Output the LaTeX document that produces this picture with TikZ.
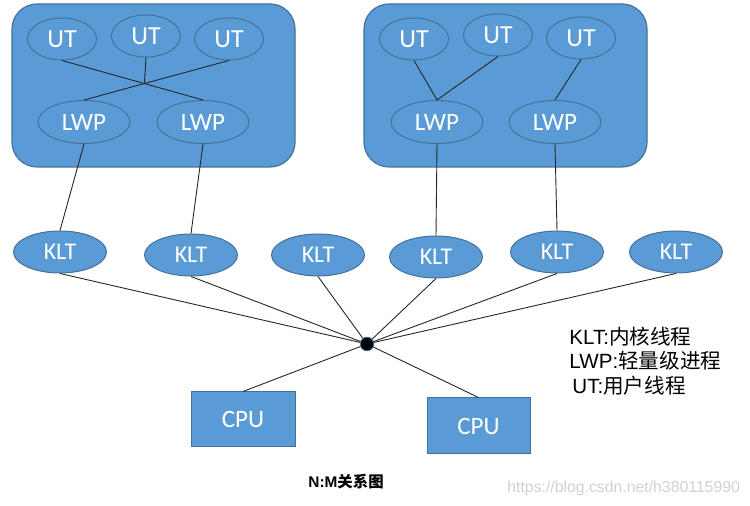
\documentclass[tikz,border=0pt]{standalone}
\usepackage{fontspec}
\usetikzlibrary{shapes.geometric}
\setmainfont{Liberation Sans}
\newfontfamily\cjk{Noto Sans CJK SC}
\newfontfamily\shapefont{Carlito}
\definecolor{officeblue}{HTML}{5B9BD5}
\definecolor{edgeblue}{HTML}{41719C}
\tikzset{
  procbox/.style={draw=edgeblue, fill=officeblue, rounded corners=12.5pt, line width=0.6pt},
  thread/.style={ellipse, draw=edgeblue, fill=officeblue, text=white, inner sep=0pt, line width=0.5pt},
  ut/.style={thread, minimum width=34.5pt, minimum height=21pt, font=\shapefont\fontsize{13}{15}\selectfont},
  lwp/.style={thread, minimum width=46pt, minimum height=21.5pt, font=\shapefont\fontsize{12.5}{15}\selectfont},
  klt/.style={thread, minimum width=46.5pt, minimum height=21pt, font=\shapefont\fontsize{12}{14}\selectfont},
  cpu/.style={rectangle, draw=edgeblue, fill=officeblue, text=white, inner sep=0pt, line width=0.5pt,
    font=\shapefont\fontsize{12.5}{15}\selectfont},
  link/.style={black!85, line width=0.45pt},
  legend/.style={anchor=base west, inner sep=0pt, font=\fontsize{10.3}{12}\selectfont}
}
\begin{document}
\begin{tikzpicture}[x=0.5pt, y=-0.5pt]
        \useasboundingbox (0,0) rectangle (750,506);
        % Processes
        \draw[procbox] (12,4) rectangle (295,167);
        \draw[procbox] (364,4) rectangle (647,167);
        % User threads
        \node[ut] (ut1) at (62,39) {UT};
        \node[ut] (ut2) at (146,36) {UT};
        \node[ut] (ut3) at (229,39) {UT};
        \node[ut] (ut4) at (414,39) {UT};
        \node[ut] (ut5) at (498,35) {UT};
        \node[ut] (ut6) at (581,38) {UT};
        % Light weight processes
        \node[lwp] (lwp1) at (84,122) {LWP};
        \node[lwp] (lwp2) at (203,122) {LWP};
        \node[lwp] (lwp3) at (437,122) {LWP};
        \node[lwp] (lwp4) at (555,122) {LWP};
        % Kernel threads
        \node[klt] (klt1) at (60,252) {KLT};
        \node[klt] (klt2) at (191,255) {KLT};
        \node[klt] (klt3) at (318,255) {KLT};
        \node[klt] (klt4) at (436,257) {KLT};
        \node[klt] (klt5) at (557,252) {KLT};
        \node[klt] (klt6) at (676,252) {KLT};
        % CPUs
        \node[cpu, minimum width=52pt, minimum height=27.5pt] (cpu1) at (243,419.5) {CPU};
        \node[cpu, minimum width=51.5pt, minimum height=28pt] (cpu2) at (478.5,426) {CPU};
        % Scheduler
        \node[circle, fill=black, draw=edgeblue, line width=0.4pt, minimum size=6.8pt, inner sep=0pt] (hub) at (367,344) {};
        % UT to LWP
        \draw[link] (ut1.south) -- (lwp2.north);
        \draw[link] (ut3.south) -- (lwp1.north);
        \coordinate (cross) at (intersection of ut1.south--lwp2.north and ut3.south--lwp1.north);
        \draw[link] (ut2.south) -- (cross);
        \draw[link] (ut4.south) -- (lwp3.north);
        \draw[link] (ut5.south) -- (lwp3.north);
        \draw[link] (ut6.south) -- (lwp4.north);
        % LWP to KLT
        \draw[link] (lwp1.south) -- (klt1.north);
        \draw[link] (lwp2.south) -- (klt2.north);
        \draw[link] (lwp3.south) -- (klt4.north);
        \draw[link] (lwp4.south) -- (klt5.north);
        % KLT and CPU to scheduler
        \foreach \k in {klt1,klt2,klt3,klt4,klt5,klt6}
          \draw[link] (\k.south) -- (hub);
        \draw[link] (cpu1.north) -- (hub);
        \draw[link] (cpu2.north) -- (hub);
        % Legend
        \node[legend] (keyklt) at (569,345) {KLT:{\cjk 内核线程}};
        \node[legend] (keylwp) at (569,369) {LWP:{\cjk 轻量级进程}};
        \node[legend] (keyut) at (572,394) {UT:{\cjk 用户线程}};
        % Caption
        \node[anchor=base west, inner sep=0pt, font=\bfseries\fontsize{7.7}{9}\selectfont] (title) at (308,488) {N:M{\cjk\bfseries 关系图}};
        \node[anchor=base west, inner sep=0pt, text=black!18, font=\fontsize{7.9}{9}\selectfont] (mark) at (507,493) {https://blog.csdn.net/h380115990};
    \end{tikzpicture}
\end{document}
